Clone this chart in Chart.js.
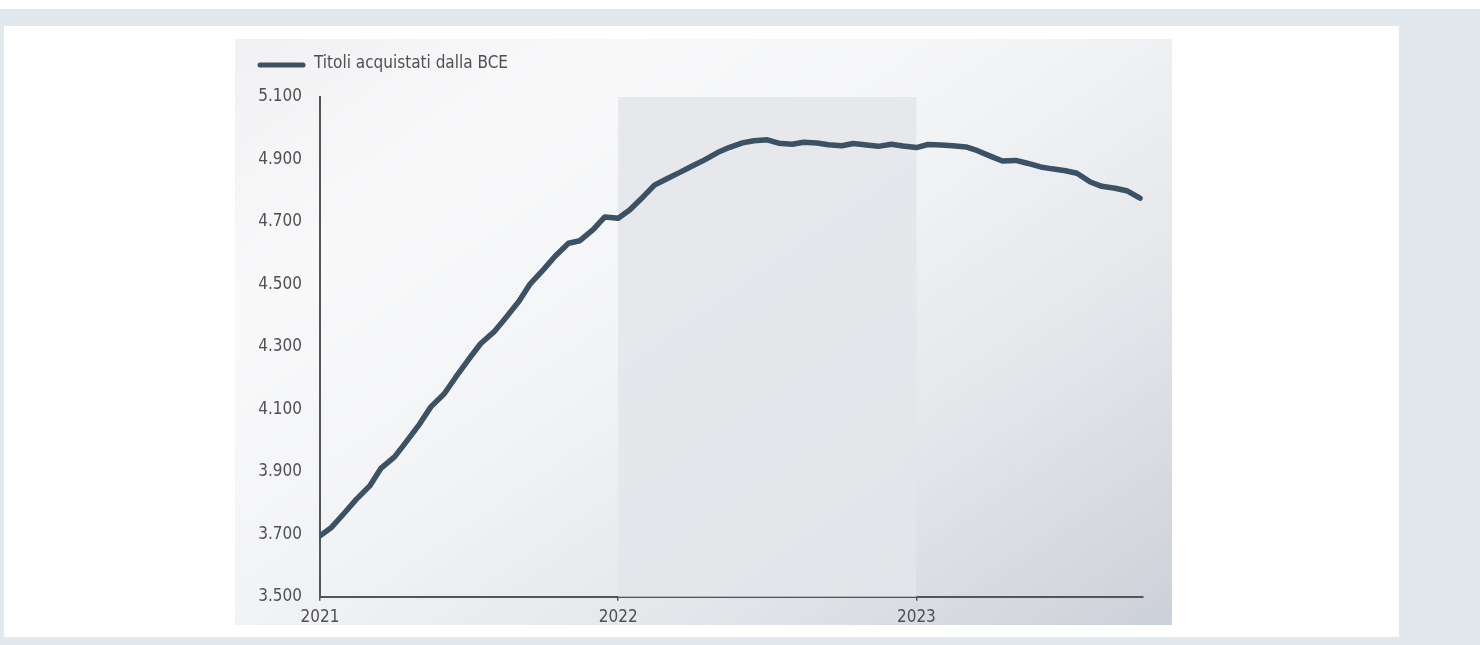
<!DOCTYPE html>
<html>
<head>
<meta charset="utf-8">
<script src="https://cdn.jsdelivr.net/npm/chart.js@4/dist/chart.umd.min.js"></script>
<style>
html,body{margin:0;padding:0;}
body{width:1480px;height:645px;position:relative;overflow:hidden;background:linear-gradient(#ffffff 0px,#ffffff 9px,#e1e8ee 9px,#e1e8ee 100%);}
#panel{position:absolute;left:4px;top:26px;width:1395px;height:611px;background:#ffffff;}
#box{position:absolute;left:235px;top:39px;width:937px;height:586px;
 background:linear-gradient(145deg,#f1f1f3 0%,#f9f9fa 22%,#f3f4f6 45%,#e6e7eb 70%,#ccd0d8 100%);}
#box canvas{position:absolute;left:0;top:0;}
</style>
</head>
<body>
<div id="panel"></div>
<div id="box"><canvas id="c" width="937" height="586"></canvas></div>
<script>
// ---- data ----
const seriesLabel = "Titoli acquistati dalla BCE";
const dates = [
 "2021-01-01","2021-01-15","2021-02-01","2021-02-15","2021-03-01","2021-03-15",
 "2021-04-01","2021-04-15","2021-05-01","2021-05-15","2021-06-01","2021-06-15",
 "2021-07-01","2021-07-15","2021-08-01","2021-08-15","2021-09-01","2021-09-15",
 "2021-10-01","2021-10-15","2021-11-01","2021-11-15","2021-12-01","2021-12-15",
 "2022-01-01","2022-01-15","2022-02-01","2022-02-15","2022-03-01","2022-03-15",
 "2022-04-01","2022-04-15","2022-05-01","2022-05-15","2022-06-01","2022-06-15",
 "2022-07-01","2022-07-15","2022-08-01","2022-08-15","2022-09-01","2022-09-15",
 "2022-10-01","2022-10-15","2022-11-01","2022-11-15","2022-12-01","2022-12-15",
 "2023-01-01","2023-01-15","2023-02-01","2023-02-15","2023-03-01","2023-03-15",
 "2023-04-01","2023-04-15","2023-05-01","2023-05-15","2023-06-01","2023-06-15",
 "2023-07-01","2023-07-15","2023-08-01","2023-08-15","2023-09-01","2023-09-15",
 "2023-10-01"
];
const values = [
 3695,3722,3770,3812,3855,3912,
 3948,3995,4052,4108,4150,4203,
 4262,4310,4348,4392,4445,4502,
 4548,4590,4632,4640,4676,4716,
 4712,4738,4780,4818,4840,4858,
 4880,4898,4922,4938,4953,4960,
 4963,4952,4949,4955,4953,4947,
 4944,4951,4946,4942,4949,4943,
 4938,4948,4946,4944,4940,4928,
 4910,4895,4897,4888,4876,4870,
 4864,4856,4828,4814,4808,4800,
 4776
];
const yearTicks = [2021, 2022, 2023];
const shadedRange = [2022, 2023];
const yTicks = [3500, 3700, 3900, 4100, 4300, 4500, 4700, 4900, 5100];

// ---- helpers ----
function toYear(s){
  const [y,m,d] = s.split("-").map(Number);
  return y + (m-1)/12 + (d-1)/365;
}
function fmt(v){
  return String(v).replace(/\B(?=(\d{3})+(?!\d))/g, ".");
}
const points = dates.map((d,i)=>({x:toYear(d), y:values[i]}));

const FONT = "'Liberation Sans Narrow','DejaVu Sans Condensed','Roboto',sans-serif";
const LINE = "#3d5164";
const AXIS = "#555555";
const TXT = "#505050";

const bandPlugin = {
  id:"band",
  beforeDatasetsDraw(chart){
    const {ctx, scales:{x,y}} = chart;
    const x0 = x.getPixelForValue(shadedRange[0]);
    const x1 = x.getPixelForValue(shadedRange[1]);
    const top = y.getPixelForValue(y.max);
    const bot = y.getPixelForValue(y.min);
    ctx.save();
    ctx.fillStyle = "rgba(228,229,234,0.85)";
    ctx.fillRect(x0, top, x1-x0, bot-top);
    ctx.restore();
  }
};
const legendPlugin = {
  id:"legendLine",
  afterDraw(chart){
    const ctx = chart.ctx;
    const ds = chart.data.datasets[0];
    ctx.save();
    ctx.strokeStyle = ds.borderColor;
    ctx.lineWidth = 5;
    ctx.lineCap = "round";
    ctx.beginPath();
    ctx.moveTo(25, 26);
    ctx.lineTo(68, 26);
    ctx.stroke();
    ctx.fillStyle = TXT;
    ctx.font = "17px " + FONT;
    ctx.textBaseline = "middle";
    ctx.textAlign = "left";
    ctx.fillText(ds.label, 79, 25);
    ctx.restore();
  }
};

new Chart(document.getElementById("c"), {
  type:"line",
  data:{datasets:[{
    label:seriesLabel,
    data:points,
    borderColor:LINE,
    borderWidth:5.5,
    pointRadius:0,
    tension:0,
    borderCapStyle:"round",
    borderJoinStyle:"round",
    fill:false
  }]},
  options:{
    responsive:false,
    devicePixelRatio:1,
    animation:false,
    layout:{padding:{top:58,right:29,left:0,bottom:0}},
    plugins:{legend:{display:false},tooltip:{enabled:false}},
    scales:{
      x:{
        type:"linear",
        min:2021, max:2023.76,
        afterBuildTicks(s){ s.ticks = yearTicks.map(v=>({value:v})); },
        afterFit(s){ s.height = 26; },
        ticks:{font:{family:FONT,size:17},color:TXT,padding:7,maxRotation:0,
               callback:v=>String(v)},
        grid:{display:true,drawOnChartArea:false,drawTicks:true,tickLength:4,color:AXIS,lineWidth:1.5},
        border:{display:true,color:AXIS,width:2}
      },
      y:{
        min:3500, max:5100,
        afterBuildTicks(s){ s.ticks = yTicks.map(v=>({value:v})); },
        afterFit(s){ s.width = 85; },
        ticks:{font:{family:FONT,size:17},color:TXT,padding:18,callback:v=>fmt(v)},
        grid:{display:false,drawTicks:false},
        border:{display:true,color:AXIS,width:2}
      }
    }
  },
  plugins:[bandPlugin, legendPlugin]
});
</script>
</body>
</html>
